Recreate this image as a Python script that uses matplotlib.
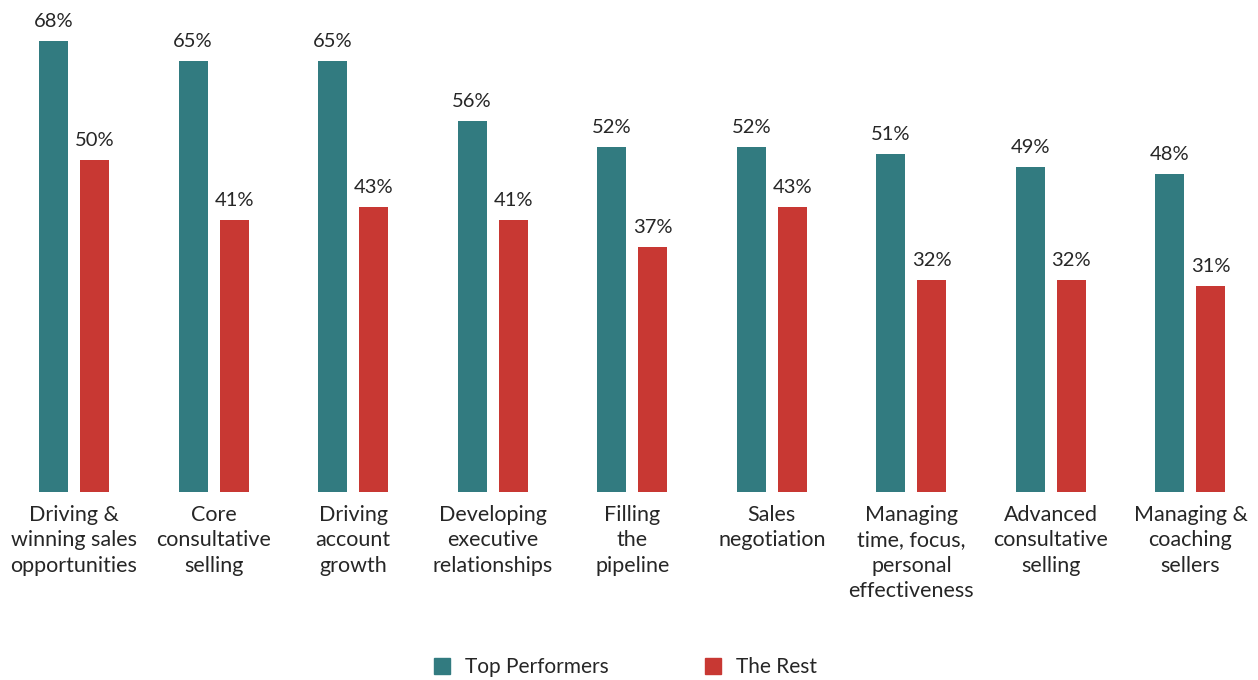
import matplotlib
matplotlib.use("Agg")
import matplotlib.pyplot as plt
from matplotlib.patches import Patch

categories = ["Driving &\nwinning sales\nopportunities", "Core\nconsultative\nselling",
              "Driving\naccount\ngrowth", "Developing\nexecutive\nrelationships",
              "Filling\nthe\npipeline", "Sales\nnegotiation",
              "Managing\ntime, focus,\npersonal\neffectiveness", "Advanced\nconsultative\nselling",
              "Managing &\ncoaching\nsellers"]
top_performers = [68, 65, 65, 56, 52, 52, 51, 49, 48]
the_rest = [50, 41, 43, 41, 37, 43, 32, 32, 31]
series_names = ["Top Performers", "The Rest"]

TEAL = "#327B80"
RED = "#C83833"
TXT = "#262626"
FONT = ["Lato", "DejaVu Sans"]
plt.rcParams["font.family"] = FONT

SP = 139.56
fig = plt.figure(figsize=(12.58, 6.80), dpi=100)
ax = fig.add_axes([0, 0.2765, 1, 0.7235])
x = list(range(len(categories)))
w = 29 / SP
off = 20.5 / SP
b1 = ax.bar([i - off for i in x], top_performers, width=w, color=TEAL)
b2 = ax.bar([i + off for i in x], the_rest, width=w, color=RED)
for bars, vals in ((b1, top_performers), (b2, the_rest)):
    for r, v in zip(bars, vals):
        ax.annotate(f"{v}%", (r.get_x() + r.get_width() / 2, v), xytext=(0, 8),
                    textcoords="offset points", ha="center", va="bottom",
                    fontsize=14.5, color=TXT)
ax.set_xlim(-74 / SP, (1258 - 74) / SP)
ax.set_ylim(0, 492 / 6.63)
ax.set_xticks(x)
ax.set_xticklabels(categories, fontsize=15.5, color=TXT, linespacing=1.33, va="top")
ax.tick_params(axis="x", length=0, pad=9.5)
ax.set_yticks([])
for s in ax.spines.values():
    s.set_visible(False)

handles = [Patch(color=TEAL, label=series_names[0]), Patch(color=RED, label=series_names[1])]
fig.legend(handles=handles, loc="center", bbox_to_anchor=(0.497, 13 / 680), ncol=2,
           frameon=False, fontsize=15, handlelength=0.77, handleheight=0.77,
           columnspacing=4.6, handletextpad=0.72, labelcolor=TXT)
fig.savefig("out.png", dpi=100)
